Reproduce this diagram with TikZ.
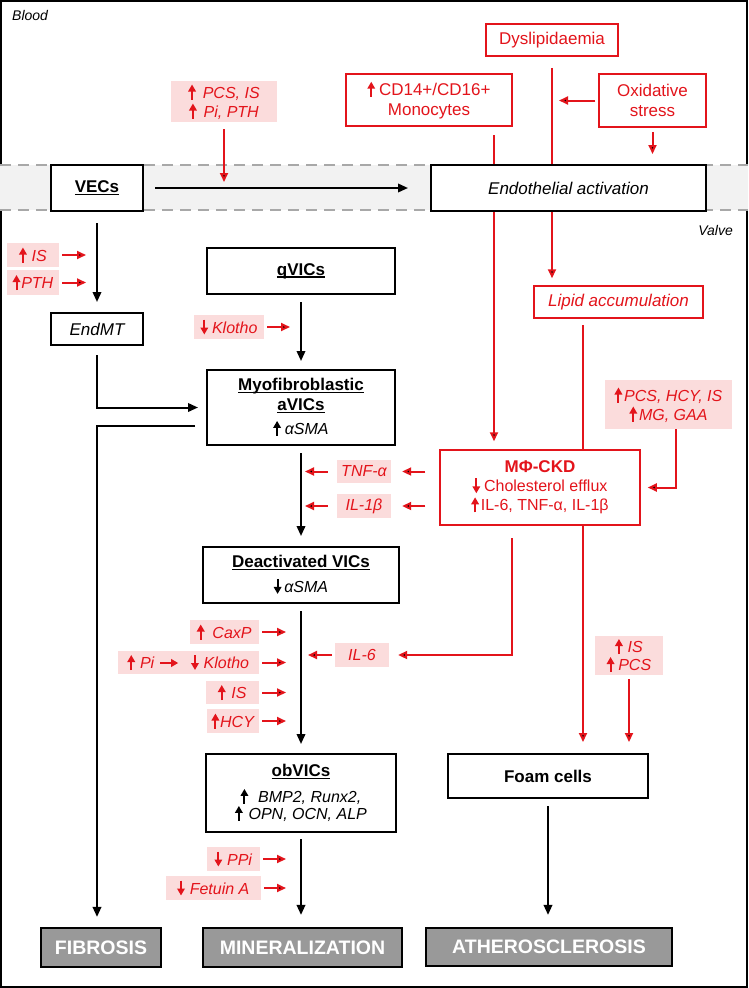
\documentclass[tikz,border=0pt]{standalone}
\usepackage{fontspec}
\setmainfont{Liberation Sans}
\usetikzlibrary{arrows.meta}
\definecolor{myred}{HTML}{E3141B}
\definecolor{mypink}{HTML}{FBDCDC}
\definecolor{bandgrey}{HTML}{F2F2F2}
\definecolor{dashgrey}{HTML}{A8A8A8}
\definecolor{outgrey}{HTML}{999999}
\newcommand\myul[1]{\setbox0=\hbox{#1}\leavevmode\rlap{\rule[-2.8pt]{\wd0}{1.6pt}}\box0}
\newcommand\upa[1]{\tikz[baseline=0pt]\draw[#1,line width=2pt,-{Triangle[length=7pt,width=7.5pt]}] (0pt,-1.5pt)--(0pt,13.5pt);}
\newcommand\dna[1]{\tikz[baseline=0pt]\draw[#1,line width=2pt,-{Triangle[length=7pt,width=7.5pt]}] (0pt,13.5pt)--(0pt,-1.5pt);}
\newcommand\rta[1]{\tikz[baseline=0pt]\draw[#1,line width=2pt,-{Triangle[length=7pt,width=7.5pt]}] (0pt,5.5pt)--(18pt,5.5pt);}
\tikzset{
 bbox/.style={draw=black, line width=2pt, fill=white, inner sep=0pt, align=center, font=\fontsize{17}{20}\selectfont},
 rbox/.style={draw=myred, line width=1.5pt, fill=white, text=myred, inner sep=0pt, align=center, font=\fontsize{17}{20.5}\selectfont},
 pbox/.style={fill=mypink, text=myred, inner sep=0pt, align=center, font=\fontsize{16}{19}\selectfont\itshape},
 obox/.style={draw=black, line width=2.2pt, fill=outgrey, text=white, inner sep=0pt, font=\fontsize{19.5}{22}\selectfont\bfseries},
 barr/.style={draw=black, line width=2pt, -{Triangle[length=10pt,width=8.5pt]}},
 rarr/.style={draw=myred, line width=2pt, -{Triangle[length=9pt,width=8pt]}},
 rline/.style={draw=myred, line width=2pt},
 lbl/.style={font=\fontsize{14}{16}\selectfont\itshape, inner sep=0pt},
}
\begin{document}
\begin{tikzpicture}[x=1pt,y=-1pt]
\useasboundingbox (0,0) rectangle (748,988);
% frame and blood/valve band
\draw[line width=2pt] (1.2,1.2) rectangle (746.5,986.8);
\fill[bandgrey] (0,165) rectangle (748,210);
\draw[dashgrey, line width=2.2pt, dash pattern=on 11pt off 7pt] (0,165) -- (748,165) (0,210) -- (748,210);
\node[lbl, anchor=base west] (blood) at (12,20.5) {Blood};
\node[lbl, anchor=base east] (valve) at (733,235) {Valve};

% nodes
\node[bbox, minimum width=92pt, minimum height=46pt] (vecs) at (97,188) {\bfseries\myul{VECs}};
\node[bbox, minimum width=275pt, minimum height=46pt] (endo) at (568.5,188) {\itshape Endothelial activation};
\node[rbox, minimum width=132pt, minimum height=32pt] (dys) at (552,40) {Dyslipidaemia};
\node[rbox, minimum width=166pt, minimum height=52pt] (cd) at (429,100) {\upa{myred}\hspace{4pt}CD14+/CD16+\\Monocytes};
\node[rbox, minimum width=107pt, minimum height=53pt] (ox) at (652.5,100.5) {Oxidative\\stress};
\node[pbox, minimum width=106pt, minimum height=41pt] (pcs) at (224,101.5) {\upa{myred}\hspace{7pt}PCS, IS\\\upa{myred}\hspace{7pt}Pi, PTH};
\node[rbox, minimum width=169pt, minimum height=32pt, font=\fontsize{17}{20}\selectfont\itshape] (lip) at (618.5,302) {Lipid accumulation};
\node[pbox, minimum width=127pt, minimum height=49pt] (hcy) at (668.5,404.5) {\upa{myred}\hspace{2pt}PCS, HCY, IS\\\upa{myred}\hspace{2pt}MG, GAA};
\node[rbox, minimum width=200pt, minimum height=75pt, font=\fontsize{16}{19}\selectfont] (mphi) at (540,487.5) {{\fontsize{17}{20}\selectfont\bfseries MΦ-CKD}\\\dna{myred}\hspace{4pt}Cholesterol efflux\\\upa{myred}\hspace{2pt}IL-6, TNF-α, IL-1β};
\node[pbox, minimum width=54pt, minimum height=23pt] (tnf) at (364,471.5) {TNF-α};
\node[pbox, minimum width=54pt, minimum height=24pt] (il1) at (364,506) {IL-1β};

\node[pbox, minimum width=52pt, minimum height=24pt] (is1) at (33,255) {\upa{myred}\hspace{5pt}IS};
\node[pbox, minimum width=52pt, minimum height=25pt] (pth) at (33,282.5) {\upa{myred}\hspace{1pt}PTH};
\node[bbox, minimum width=92pt, minimum height=32pt] (endmt) at (97,329) {\itshape EndMT};
\node[bbox, minimum width=188pt, minimum height=46pt] (qv) at (301,271) {\bfseries\myul{qVICs}};
\node[pbox, minimum width=70pt, minimum height=24pt] (klo) at (229,327) {\dna{myred}\hspace{4pt}Klotho};
\node[bbox, minimum width=188pt, minimum height=75pt] (myo) at (301,407.5) {{\bfseries\myul{Myofibroblastic}}\\{\bfseries\myul{aVICs}}\\[4pt]{\fontsize{16}{19}\selectfont\upa{black}\hspace{4pt}\itshape αSMA}};
\node[bbox, minimum width=196pt, minimum height=56pt] (deact) at (301,575) {{\bfseries\myul{Deactivated VICs}}\\[5pt]{\fontsize{16}{19}\selectfont\dna{black}\hspace{3pt}\itshape αSMA}};
\node[bbox, minimum width=190pt, minimum height=78pt] (ob) at (301,793) {{\bfseries\myul{obVICs}}\\[6pt]{\fontsize{16}{19}\selectfont\itshape\upa{black}\hspace{10pt}BMP2, Runx2,}\\[-3pt]{\fontsize{16}{19}\selectfont\itshape\upa{black}\hspace{6pt}OPN, OCN, ALP}};

\node[pbox, anchor=east, minimum width=69pt, minimum height=24pt] (caxp) at (259,632) {\upa{myred}\hspace{8pt}CaxP};
\node[pbox, anchor=east, minimum width=141pt, minimum height=23pt] (piklo) at (259,662.5) {\upa{myred}\hspace{5pt}Pi\hspace{5pt}\rta{myred}\hspace{12pt}\dna{myred}\hspace{5pt}Klotho};
\node[pbox, anchor=east, minimum width=53pt, minimum height=23pt] (is2) at (259,692.5) {\upa{myred}\hspace{6pt}IS};
\node[pbox, anchor=east, minimum width=52pt, minimum height=24pt] (hcy2) at (259,721) {\upa{myred}\hspace{1pt}HCY};
\node[pbox, minimum width=54pt, minimum height=24pt] (il6) at (362,655) {IL-6};
\node[pbox, minimum width=68pt, minimum height=39pt, font=\fontsize{16}{18}\selectfont\itshape] (isp) at (629,655.5) {\upa{myred}\hspace{5pt}IS\\\upa{myred}\hspace{4pt}PCS};
\node[bbox, minimum width=200pt, minimum height=44pt] (foam) at (548,776) {\bfseries Foam cells};
\node[pbox, anchor=east, minimum width=53pt, minimum height=24pt] (ppi) at (260,859) {\dna{myred}\hspace{5pt}PPi};
\node[pbox, anchor=east, minimum width=95pt, minimum height=24pt] (fet) at (261,888) {\dna{myred}\hspace{5pt}Fetuin A};
\node[obox, minimum width=120pt, minimum height=39pt] (fib) at (101,947.5) {FIBROSIS};
\node[obox, minimum width=199pt, minimum height=39pt] (mine) at (302.5,947.5) {MINERALIZATION};
\node[obox, minimum width=246pt, minimum height=38pt] (ath) at (549,947) {ATHEROSCLEROSIS};

% coordinates for free ends
\coordinate (cdA) at (494,135);
\coordinate (lipA) at (583,325);
\coordinate (fibA) at (195,426);
\coordinate (mphiB) at (512,538);

% connectors: blood side
\draw[barr, shorten <=11pt, shorten >=22pt] (vecs) -- (endo);
\draw[rarr, shorten <=7pt, shorten >=6pt] (pcs.south) -- (pcs.south |- vecs.east);
\draw[rline, shorten <=11pt] (dys.south) -- (dys.south |- endo.north);
\draw[rarr, shorten >=7pt] (dys.south |- endo.south) -- (dys.south |- lip.north);
\draw[rarr, shorten <=3pt, shorten >=7pt] (ox.west) -- (dys.south |- ox.west);
\draw[rarr, shorten <=4pt, shorten >=10pt] (ox.south) -- (ox.south |- endo.north);
\draw[rline] (cdA) -- (cdA |- endo.north);
\draw[rarr, shorten >=8pt] (cdA |- endo.south) -- (cdA |- mphi.north);
% left column
\draw[barr, shorten <=11pt, shorten >=10pt] (vecs) -- (endmt);
\draw[rarr, shorten <=3pt, shorten >=11pt] (is1.east) -- (vecs.south |- is1.east);
\draw[rarr, shorten <=3pt, shorten >=11pt] (pth.east) -- (vecs.south |- pth.east);
\draw[barr, shorten <=9pt, shorten >=8pt] (endmt.south) |- (myo.west);
\draw[barr, shorten >=10pt] (fibA) -| (vecs.south |- fib.north);
% middle column
\draw[barr, shorten <=7pt, shorten >=8pt] (qv) -- (myo);
\draw[rarr, shorten <=3pt, shorten >=11pt] (klo.east) -- (qv.south |- klo.east);
\draw[barr, shorten <=7pt, shorten >=10pt] (myo) -- (deact);
\draw[rarr, shorten <=9pt, shorten >=4pt] (tnf.west) -- (myo.south |- tnf.west);
\draw[rarr, shorten <=9pt, shorten >=4pt] (il1.west) -- (myo.south |- il1.west);
\draw[rarr, shorten <=14pt, shorten >=11pt] (mphi.west |- tnf.east) -- (tnf.east);
\draw[rarr, shorten <=14pt, shorten >=11pt] (mphi.west |- il1.east) -- (il1.east);
\draw[barr, shorten <=7pt, shorten >=9pt] (deact) -- (ob);
\draw[rarr, shorten <=3pt, shorten >=15pt] (caxp.east) -- (deact.south |- caxp.east);
\draw[rarr, shorten <=3pt, shorten >=15pt] (piklo.east) -- (deact.south |- piklo.east);
\draw[rarr, shorten <=3pt, shorten >=15pt] (is2.east) -- (deact.south |- is2.east);
\draw[rarr, shorten <=3pt, shorten >=15pt] (hcy2.east) -- (deact.south |- hcy2.east);
\draw[rarr, shorten <=3pt, shorten >=7pt] (il6.west) -- (deact.south |- il6.west);
\draw[rarr, shorten >=9pt] (mphiB) |- (il6.east);
\draw[barr, shorten <=6pt, shorten >=12pt] (ob.south) -- (ob.south |- mine.north);
\draw[rarr, shorten <=3pt, shorten >=15pt] (ppi.east) -- (ob.south |- ppi.east);
\draw[rarr, shorten <=3pt, shorten >=15pt] (fet.east) -- (ob.south |- fet.east);
% right column
\draw[rline] (lipA) -- (lipA |- mphi.north);
\draw[rarr, shorten >=11pt] (lipA |- mphi.south) -- (lipA |- foam.north);
\draw[rarr, shorten >=7pt] ([xshift=7.5pt]hcy.south) |- (mphi.east);
\draw[rarr, shorten <=4pt, shorten >=11pt] (isp.south) -- (isp.south |- foam.north);
\draw[barr, shorten <=7pt, shorten >=12pt] (foam.south) -- (foam.south |- ath.north);
\end{tikzpicture}
\end{document}
